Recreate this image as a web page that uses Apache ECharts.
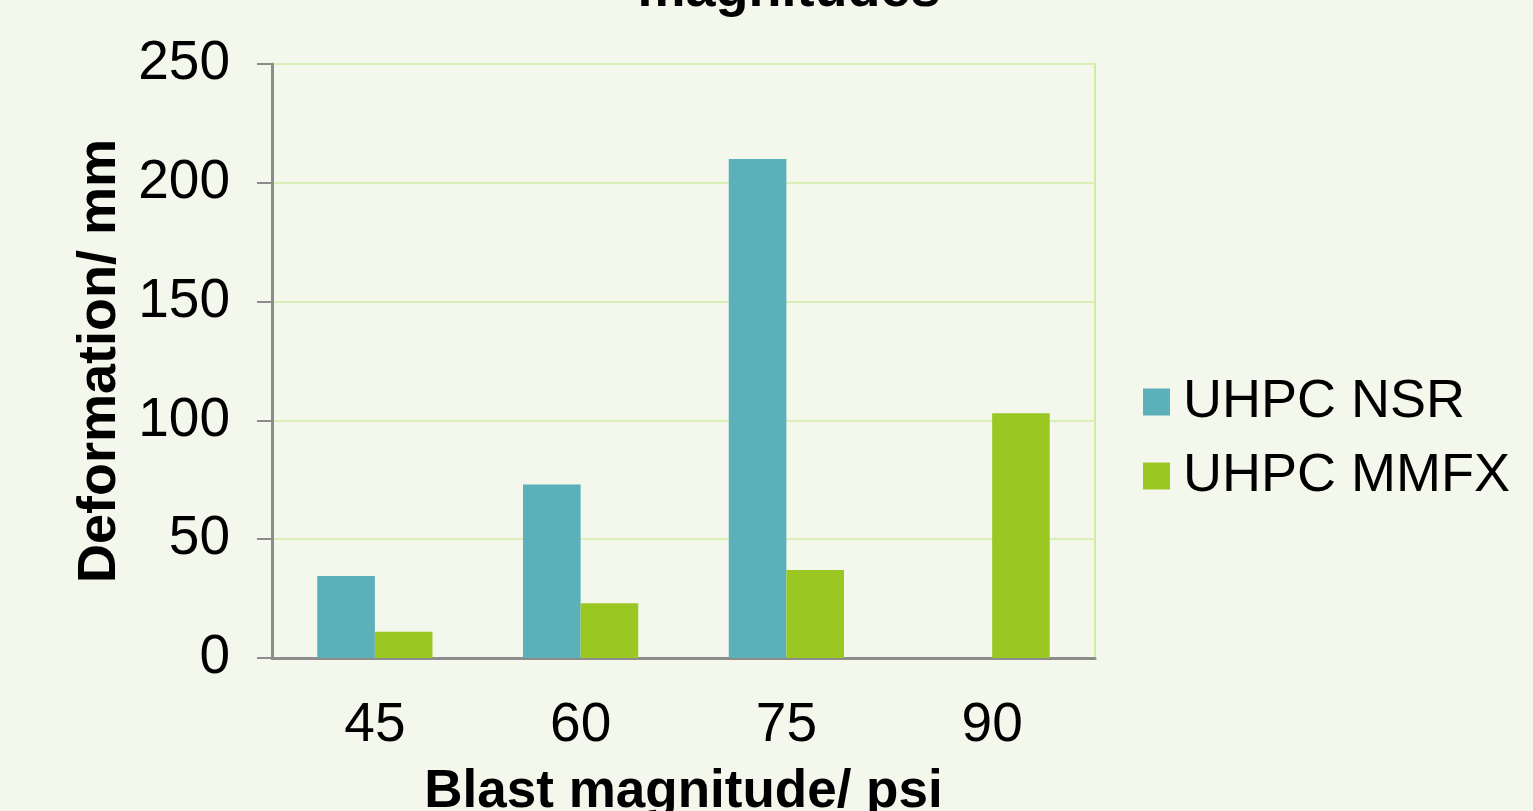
<!DOCTYPE html>
<html>
<head>
<meta charset="utf-8">
<script src="https://cdn.jsdelivr.net/npm/echarts@6/dist/echarts.min.js"></script>
<style>
    html, body { margin: 0; padding: 0; background: #f4f7ec; }
    #chart { width: 1533px; height: 811px; }
</style>
</head>
<body>
<div id="chart"></div>
<script>
var categories = ['45', '60', '75', '90'];
var nsrValues = [34.5, 73, 210, '-'];
var mmfxValues = [11, 23, 37, 103];
var yTicks = [0, 50, 100, 150, 200, 250];

var chart = echarts.init(document.getElementById('chart'));
var font = 'Liberation Sans, Arial, sans-serif';

var option = {
    backgroundColor: '#f4f7ec',
    animation: false,
    title: {
        text: 'magnitudes',
        left: 784,
        textAlign: 'center',
        top: -41,
        textStyle: { fontFamily: font, fontSize: 54, fontWeight: 'bold', color: '#000' }
    },
    legend: {
        orient: 'vertical',
        left: 1138,
        top: 370,
        itemWidth: 27,
        itemHeight: 27,
        itemGap: 20,
        icon: 'rect',
        textStyle: { fontFamily: font, fontSize: 54, color: '#000', padding: [0, 0, 0, 8] },
        data: ['UHPC NSR', 'UHPC MMFX']
    },
    grid: {
        left: 272,
        right: 1533 - 1095,
        top: 64,
        bottom: 811 - 658,
        outerBoundsMode: 'none',
        containLabel: false,
        show: true,
        borderColor: '#cdeda0',
        borderWidth: 2,
        backgroundColor: 'transparent'
    },
    xAxis: {
        type: 'category',
        data: categories,
        name: 'Blast magnitude/ psi',
        nameLocation: 'middle',
        nameGap: 108,
        nameTextStyle: { fontFamily: font, fontSize: 53, fontWeight: 'bold', color: '#000' },
        axisLine: { lineStyle: { color: '#8c8c8c', width: 3 } },
        axisTick: { show: false },
        axisLabel: { fontFamily: font, fontSize: 55, color: '#000', margin: 40 },
        splitLine: { show: false }
    },
    yAxis: {
        type: 'value',
        min: yTicks[0],
        max: yTicks[yTicks.length - 1],
        interval: 50,
        name: 'Deformation/ mm',
        nameLocation: 'middle',
        nameGap: 143,
        nameTextStyle: { fontFamily: font, fontSize: 54, fontWeight: 'bold', color: '#000' },
        axisLine: { show: true, lineStyle: { color: '#8c8c8c', width: 3 } },
        axisTick: { show: true, length: 15, lineStyle: { color: '#8c8c8c', width: 2 } },
        axisLabel: { fontFamily: font, fontSize: 55, color: '#000', margin: 42 },
        splitLine: { lineStyle: { color: '#d8f0b8', width: 2 } }
    },
    series: [
        {
            name: 'UHPC NSR',
            type: 'bar',
            data: nsrValues,
            barGap: '0%',
            barCategoryGap: '44%',
            itemStyle: { color: '#5bb0b9' }
        },
        {
            name: 'UHPC MMFX',
            type: 'bar',
            data: mmfxValues,
            barGap: '0%',
            barCategoryGap: '44%',
            itemStyle: { color: '#9bc723' }
        }
    ]
};

chart.setOption(option);
</script>
</body>
</html>
